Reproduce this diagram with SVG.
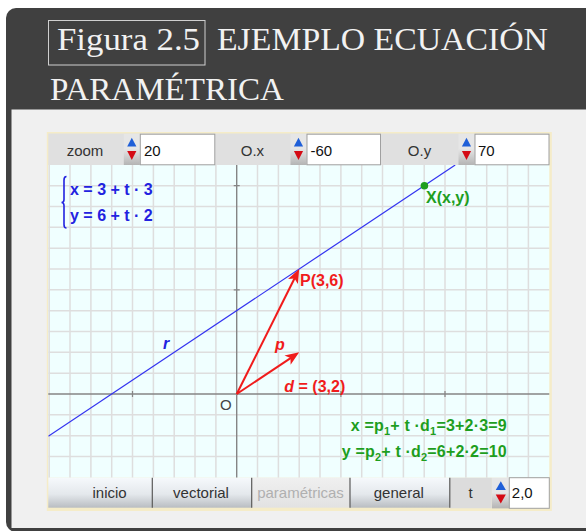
<svg xmlns="http://www.w3.org/2000/svg" width="586" height="531" viewBox="0 0 586 531">
<style>
.title{font-family:"Liberation Serif","DejaVu Serif",serif;font-size:32px;fill:#f2f2f2}
.ui{font-family:"Liberation Sans",Arial,sans-serif;font-size:15px;fill:#333}
.val{font-family:"Liberation Sans",Arial,sans-serif;font-size:15px;fill:#111}
.b{font-family:"Liberation Sans",Arial,sans-serif;font-weight:bold;font-size:16px}
.blue{fill:#2222e0}
.red{fill:#f01c1c}
.green{fill:#1e9e1e}
.field{fill:#fff;stroke:#a0a0a0;stroke-width:1}
.sep{stroke:#5a5a5a;stroke-width:1.2}
</style>
<defs>
<linearGradient id="btn" x1="0" y1="0" x2="0" y2="1">
<stop offset="0" stop-color="#f6f9fc"/>
<stop offset="0.55" stop-color="#e4e8ec"/>
<stop offset="1" stop-color="#b9bdc2"/>
</linearGradient>
<linearGradient id="btnOff" x1="0" y1="0" x2="0" y2="1">
<stop offset="0" stop-color="#f0f0f0"/>
<stop offset="1" stop-color="#e2e2e2"/>
</linearGradient>
<linearGradient id="spinLow" x1="0" y1="0" x2="0" y2="1">
<stop offset="0" stop-color="#e4e4e4"/>
<stop offset="1" stop-color="#b4b4b4"/>
</linearGradient>
<symbol id="spin" overflow="visible">
<rect x="0" y="0" width="16" height="15.5" fill="#e6e6e6"/>
<rect x="0" y="15.5" width="16" height="15.5" fill="url(#spinLow)"/>
<polygon points="8,3.7 3.4,12.4 12.6,12.4" fill="#1f5fd8"/>
<polygon points="3.4,17 12.6,17 8,26" fill="#d40a14"/>
</symbol>
<marker id="arr" markerUnits="userSpaceOnUse" markerWidth="20" markerHeight="20" refX="0" refY="0" orient="auto" overflow="visible">
<path d="M5,0 L-9,-5.5 L-5.5,0 L-9,5.5 Z" fill="#f01c1c"/>
</marker>
<clipPath id="gridClip"><rect x="48.3" y="165" width="501" height="312.7"/></clipPath>
</defs>

<g id="frame">
<rect x="6" y="8" width="620" height="524" rx="10" fill="#404040"/>
<rect x="11.5" y="109.5" width="620" height="418.5" fill="#f0f0f0"/>
</g>

<g id="title">
<rect x="48.5" y="20.5" width="156.5" height="44.5" fill="none" stroke="#cfcfcf" stroke-width="1"/>
<text class="title" x="57" y="50" textLength="143" lengthAdjust="spacingAndGlyphs">Figura 2.5</text>
<text class="title" x="217" y="50" textLength="331" lengthAdjust="spacingAndGlyphs">EJEMPLO ECUACIÓN</text>
<text class="title" x="50" y="99.5" textLength="234" lengthAdjust="spacingAndGlyphs">PARAMÉTRICA</text>
</g>

<g id="applet">
<rect x="46.8" y="132" width="505" height="379" fill="#f5ecc8"/>
<rect x="48.3" y="165" width="501" height="312.7" fill="#f0ffff"/>
</g>

<g id="grid">
<path fill="none" stroke="#dedede" stroke-width="1.5" d="M49.2,165V477.7M70,165V477.7M90.9,165V477.7M111.7,165V477.7M132.5,165V477.7M153.4,165V477.7M174.2,165V477.7M195,165V477.7M215.9,165V477.7M257.5,165V477.7M278.4,165V477.7M299.2,165V477.7M320,165V477.7M340.9,165V477.7M361.7,165V477.7M382.5,165V477.7M403.4,165V477.7M424.2,165V477.7M445,165V477.7M465.9,165V477.7M486.7,165V477.7M507.5,165V477.7M528.4,165V477.7M48.3,185.7H549.3M48.3,206.5H549.3M48.3,227.3H549.3M48.3,248.2H549.3M48.3,269H549.3M48.3,289.8H549.3M48.3,310.7H549.3M48.3,331.5H549.3M48.3,352.3H549.3M48.3,373.2H549.3M48.3,414.8H549.3M48.3,435.7H549.3M48.3,456.5H549.3"/>
<path fill="none" stroke="#858585" stroke-width="1.4" d="M48.3,394H549.3M236.7,165V477.7"/>
<path fill="none" stroke="#858585" stroke-width="1.2" d="M132.5,391V397M340.9,391V397M445,391V397M233.7,289.8H239.7M233.7,185.7H239.7"/>
</g>

<g id="connectors">
<g clip-path="url(#gridClip)">
<line id="line-r" x1="48.3" y1="436.3" x2="455.2" y2="165" stroke="#3434f0" stroke-width="1.2"/>
</g>
<line id="vec-p" x1="236.7" y1="394" x2="296.96" y2="273.47" stroke="#f01c1c" stroke-width="2" marker-end="url(#arr)"/>
<line id="vec-d" x1="236.7" y1="394" x2="295.04" y2="355.07" stroke="#f01c1c" stroke-width="2" marker-end="url(#arr)"/>
</g>

<g id="point-X">
<circle cx="424.4" cy="185.8" r="3.8" fill="#1e9e1e"/>
<text class="b green" x="426" y="202.5">X(x,y)</text>
</g>

<g id="point-P">
<text class="b red" x="300" y="285.7">P(3,6)</text>
</g>

<g id="labels">
<text class="b red" x="275" y="350" font-style="italic">p</text>
<text class="b red" x="284.3" y="391.5"><tspan font-style="italic">d</tspan> = (3,2)</text>
<text class="b blue" x="163" y="349" font-style="italic">r</text>
<text x="220" y="409.5" font-family="Liberation Sans,Arial,sans-serif" font-size="15" fill="#444">O</text>
</g>

<g id="equations">
<path d="M66.5,176.5 Q64,176.5 64,180 L64,199.5 Q64,202.5 61.5,202.5 Q64,202.5 64,205.5 L64,224.5 Q64,228 66.5,228" fill="none" stroke="#2222e0" stroke-width="1.6"/>
<text class="b blue" x="70" y="194.5">x = 3 + t · 3</text>
<text class="b blue" x="70" y="220.5">y = 6 + t · 2</text>
<text class="b green" x="350.7" y="430.7" textLength="156" lengthAdjust="spacing">x =p<tspan font-size="11" dy="4">1</tspan><tspan dy="-4">+ t ·d</tspan><tspan font-size="11" dy="4">1</tspan><tspan dy="-4">=3+2·3=9</tspan></text>
<text class="b green" x="341.7" y="456.7" textLength="165" lengthAdjust="spacing">y =p<tspan font-size="11" dy="4">2</tspan><tspan dy="-4">+ t ·d</tspan><tspan font-size="11" dy="4">2</tspan><tspan dy="-4">=6+2·2=10</tspan></text>
</g>

<g id="toolbar">
<rect x="48.3" y="133.5" width="501" height="31.5" fill="#e0e0e0"/>
<text class="ui" x="85" y="156" text-anchor="middle">zoom</text>
<use href="#spin" x="123.8" y="134"/>
<rect class="field" x="140.3" y="134.2" width="74.5" height="30.6"/>
<text class="val" x="144" y="156">20</text>
<text class="ui" x="252.4" y="156" text-anchor="middle">O.x</text>
<use href="#spin" x="290.5" y="134"/>
<rect class="field" x="307" y="134.2" width="73.5" height="30.6"/>
<text class="val" x="310.5" y="156">-60</text>
<text class="ui" x="419.5" y="156" text-anchor="middle">O.y</text>
<use href="#spin" x="458.5" y="134"/>
<rect class="field" x="475" y="134.2" width="74" height="30.6"/>
<text class="val" x="478" y="156">70</text>
</g>

<g id="buttons">
<rect x="48.3" y="477.7" width="104" height="30" fill="url(#btn)"/>
<rect x="152.3" y="477.7" width="99.4" height="30" fill="url(#btn)"/>
<rect x="251.7" y="477.7" width="98.3" height="30" fill="url(#btnOff)"/>
<rect x="350" y="477.7" width="99.8" height="30" fill="url(#btn)"/>
<rect x="449.8" y="477.7" width="42" height="30.6" fill="#dcdcdc"/>
<path class="sep" d="M152.3,477.7V507.7M251.7,477.7V507.7M350,477.7V507.7M449.8,477.7V507.7"/>
<text class="ui" x="109.6" y="497.5" text-anchor="middle">inicio</text>
<text class="ui" x="201" y="497.5" text-anchor="middle">vectorial</text>
<text class="ui" x="300.5" y="497.5" text-anchor="middle" style="fill:#b0b0b0">paramétricas</text>
<text class="ui" x="398.8" y="497.5" text-anchor="middle">general</text>
<text class="ui" x="470.7" y="497.5" text-anchor="middle">t</text>
<use href="#spin" x="492" y="477.7" transform="translate(492,477.7) scale(1.1,0.99) translate(-492,-477.7)"/>
<rect class="field" x="509.3" y="477.7" width="40" height="30.6"/>
<text class="val" x="511.8" y="497.5">2,0</text>
</g>
</svg>
